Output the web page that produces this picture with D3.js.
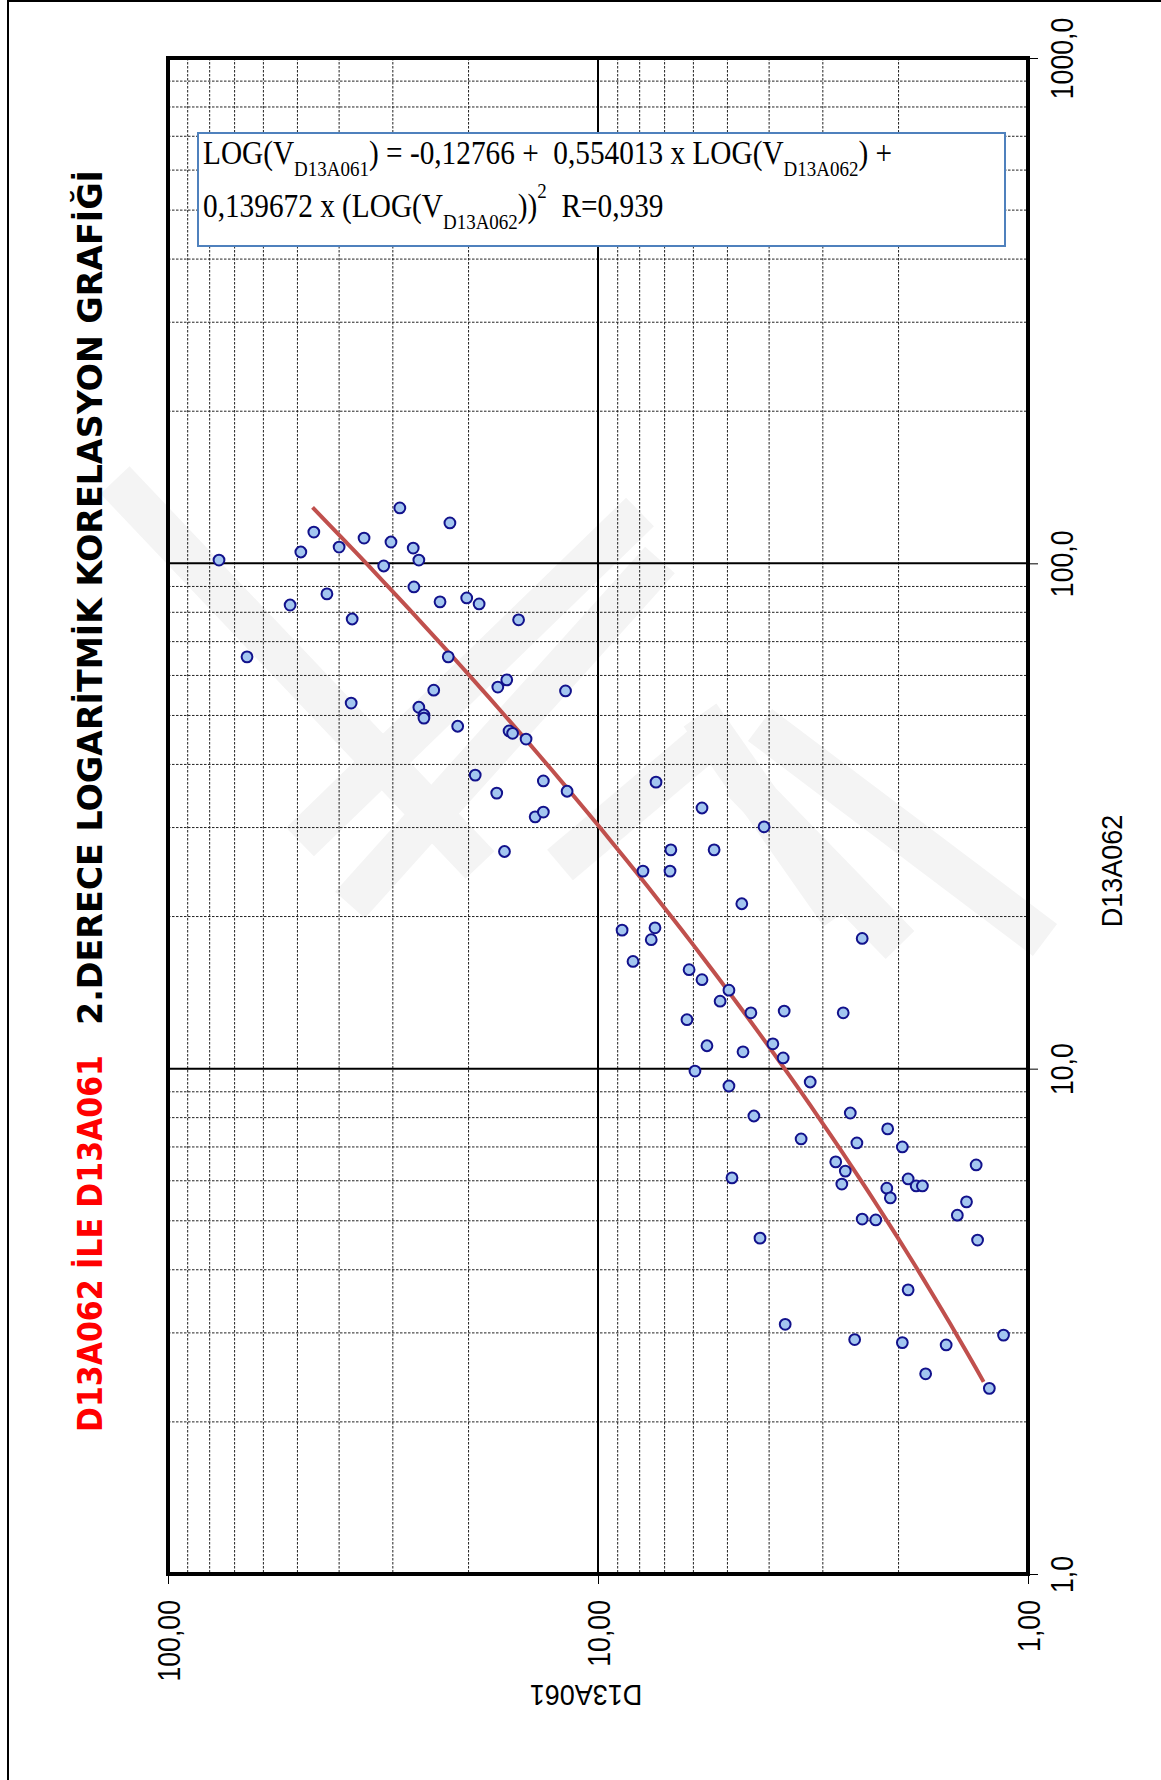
<!DOCTYPE html>
<html>
<head>
<meta charset="utf-8">
<script src="https://cdn.jsdelivr.net/npm/d3@7"></script>
<style>
body { margin: 0; background: #fff; }
svg { display: block; }
</style>
</head>
<body>
<svg id="chart" width="1161" height="1780"></svg>
<script>
// ölçüm değerleri (D13A061 yatay eksen, D13A062 dikey eksen)
var d13a061 = [76.1, 65.5, 52.0, 49.1, 45.8, 42.7, 40.0, 37.3, 37.5, 35.0, 31.5, 30.3, 28.9,
    22.1, 26.9, 26.1, 26.8, 23.3, 20.2, 18.9, 15.3, 22.3, 24.1, 26.1, 25.4, 25.4, 21.2, 17.1, 16.3, 11.9,
    16.1, 15.8, 14.7, 19.3, 17.2, 13.4, 11.8, 14.0, 13.4, 16.5,
    7.33, 5.73, 4.11, 6.77, 5.37, 7.86, 6.80, 4.63, 8.79, 7.37, 7.52, 8.29, 6.14, 5.73, 4.96, 5.20,
    4.41, 3.69, 6.21, 5.58, 4.60, 3.92, 3.71, 5.95, 4.96, 3.21,
    2.43, 2.69, 4.34, 3.37, 4.88, 4.20, 3.67,
    2.59, 2.12, 2.50, 1.96, 2.80, 2.66, 2.71, 2.13, 2.09, 1.90, 1.82, 1.76, 1.32, 1.39, 1.46, 2.43,
    2.26, 1.31, 1.90, 2.53, 1.96, 1.55, 1.73, 1.14, 1.23];
var d13a062 = [101.5, 65.3, 82.7, 105.3, 115.3, 87.0, 107.7, 77.6, 52.9, 112.2, 98.8, 110.2, 128.7,
    120.2, 107.2, 101.5, 89.8, 83.9, 85.4, 83.1, 77.3, 65.3, 56.1, 51.9, 50.1, 49.4, 47.6, 56.9, 58.8, 55.9,
    46.6, 46.1, 44.9, 38.1, 35.1, 37.1, 35.4, 31.5, 32.2, 26.9,
    36.9, 32.8, 30.1, 27.1, 27.1, 24.6, 24.6, 21.2, 18.8, 19.0, 18.0, 16.3, 15.7, 15.0, 14.3, 13.6,
    12.9, 13.0, 12.5, 11.1, 10.8, 11.2, 10.5, 9.89, 9.24, 9.41,
    18.1, 12.9, 8.06, 7.26, 6.08, 4.62, 3.12,
    8.17, 7.60, 7.13, 7.00, 6.54, 6.27, 5.91, 5.80, 5.55, 6.05, 5.86, 5.86, 6.45, 5.45, 5.13, 5.04,
    5.02, 4.58, 3.65, 2.91, 2.87, 2.84, 2.49, 2.97, 2.33];

// LOG(V061) = a + b*LOG(V062) + c*LOG(V062)^2
var fitCoef = [-0.12766, 0.554013, 0.139672];
var fitRange = [2.4, 129];

var xTickVals = [100, 10, 1];
var xTickLabels = ["100,00", "10,00", "1,00"];
var yTickVals = [1000, 100, 10, 1];
var yTickLabels = ["1000,0", "100,0", "10,0", "1,0"];
var xMinor = [2, 3, 4, 5, 6, 7, 8, 9, 20, 30, 40, 50, 60, 70, 80, 90];
var xMajor = [10];
var yMinor = [2, 3, 4, 5, 6, 7, 8, 9, 20, 30, 40, 50, 60, 70, 80, 90, 200, 300, 400, 500, 600, 700, 800, 900];
var yMajor = [10, 100];

var titleRed = "D13A062 İLE D13A061";
var titleBlack = "2.DERECE LOGARİTMİK KORELASYON GRAFİĞİ";

var svg = d3.select("#chart");
var L = 168, R = 1028, T = 58, B = 1574;

var x = d3.scaleLog().domain([100, 1]).range([L, R]);
var y = d3.scaleLog().domain([1000, 1]).range([T, B]);

// sayfa kenarı
svg.append("line").attr("x1", 8).attr("x2", 1161).attr("y1", 1).attr("y2", 1)
    .attr("stroke", "#000").attr("stroke-width", 2);
svg.append("line").attr("x1", 8).attr("x2", 8).attr("y1", 0).attr("y2", 1780)
    .attr("stroke", "#000").attr("stroke-width", 2);

// filigran (yaklaşık, çok soluk)
var wm = [[[115, 480], [480, 865]], [[300, 842], [640, 512]], [[350, 905], [660, 560]],
    [[560, 865], [720, 730]], [[700, 715], [840, 915]], [[760, 725], [1045, 940]], [[740, 780], [900, 945]]];
svg.append("g").selectAll("line").data(wm).enter().append("line")
    .attr("x1", function (d) { return d[0][0]; })
    .attr("y1", function (d) { return d[0][1]; })
    .attr("x2", function (d) { return d[1][0]; })
    .attr("y2", function (d) { return d[1][1]; })
    .attr("stroke", "#f4f4f4").attr("stroke-width", 40);

// ara çizgiler
var grid = svg.append("g");
grid.selectAll(".vmin").data(xMinor).enter().append("line")
    .attr("x1", function (d) { return x(d); }).attr("x2", function (d) { return x(d); })
    .attr("y1", T).attr("y2", B)
    .attr("stroke", "#222").attr("stroke-width", 1).attr("stroke-dasharray", "2.5,1.5");
grid.selectAll(".hmin").data(yMinor).enter().append("line")
    .attr("y1", function (d) { return y(d); }).attr("y2", function (d) { return y(d); })
    .attr("x1", L).attr("x2", R)
    .attr("stroke", "#222").attr("stroke-width", 1).attr("stroke-dasharray", "2.5,1.5");
grid.selectAll(".vmaj").data(xMajor).enter().append("line")
    .attr("x1", function (d) { return x(d); }).attr("x2", function (d) { return x(d); })
    .attr("y1", T).attr("y2", B)
    .attr("stroke", "#000").attr("stroke-width", 2);
grid.selectAll(".hmaj").data(yMajor).enter().append("line")
    .attr("y1", function (d) { return y(d); }).attr("y2", function (d) { return y(d); })
    .attr("x1", L).attr("x2", R)
    .attr("stroke", "#000").attr("stroke-width", 2);

// regresyon eğrisi
var fitPts = [];
var l0 = Math.log10(fitRange[0]), l1 = Math.log10(fitRange[1]);
for (let i = 0; i <= 60; i++) {
    let lw = l0 + (l1 - l0) * i / 60;
    let lv = fitCoef[0] + fitCoef[1] * lw + fitCoef[2] * lw * lw;
    fitPts.push([Math.pow(10, lv), Math.pow(10, lw)]);
}
var fitLine = d3.line()
    .x(function (d) { return x(d[0]); })
    .y(function (d) { return y(d[1]); });
svg.append("path").attr("d", fitLine(fitPts))
    .attr("fill", "none").attr("stroke", "#c0504d").attr("stroke-width", 4);

// noktalar
svg.append("g").selectAll("circle").data(d13a061).enter().append("circle")
    .attr("cx", function (d) { return x(d); })
    .attr("cy", function (d, i) { return y(d13a062[i]); })
    .attr("r", 5.4)
    .attr("fill", "#a3c6f0").attr("stroke", "#12128c").attr("stroke-width", 2);

// çerçeve
svg.append("rect").attr("x", L).attr("y", T).attr("width", R - L).attr("height", B - T)
    .attr("fill", "none").attr("stroke", "#000").attr("stroke-width", 4);

// eksenler
var xAxis = d3.axisBottom(x).tickValues(xTickVals).tickSize(10)
    .tickFormat(function (d, i) { return xTickLabels[i]; });
var gx = svg.append("g").attr("transform", "translate(0," + B + ")").call(xAxis);
gx.select(".domain").remove();
gx.selectAll("line").attr("stroke-width", 1);
gx.selectAll("text")
    .attr("x", 0).attr("y", 0).attr("dy", "0.36em")
    .attr("transform", "translate(0,26) rotate(-90) scale(0.86,1)")
    .attr("text-anchor", "end")
    .style("font-family", "'Liberation Sans', Arial, sans-serif")
    .style("font-size", "31px").attr("fill", "#000");

var yAxis = d3.axisRight(y).tickValues(yTickVals).tickSize(10)
    .tickFormat(function (d, i) { return yTickLabels[i]; });
var gy = svg.append("g").attr("transform", "translate(" + R + ",0)").call(yAxis);
gy.select(".domain").remove();
gy.selectAll("line").attr("stroke-width", 1);
gy.selectAll("text")
    .attr("x", 0).attr("y", 0).attr("dy", "0.36em")
    .attr("transform", "translate(34,0) rotate(-90) scale(0.86,1)")
    .attr("text-anchor", "middle")
    .style("font-family", "'Liberation Sans', Arial, sans-serif")
    .style("font-size", "31px").attr("fill", "#000");

// eksen başlıkları
svg.append("text").attr("transform", "translate(1122,871) rotate(-90) scale(0.9,1)")
    .attr("text-anchor", "middle")
    .style("font-family", "'Liberation Sans', Arial, sans-serif").style("font-size", "30px")
    .text("D13A062");
svg.append("text").attr("transform", "translate(586,1685) rotate(180) scale(0.9,1)")
    .attr("text-anchor", "middle")
    .style("font-family", "'Liberation Sans', Arial, sans-serif").style("font-size", "30px")
    .text("D13A061");

// denklem kutusu
svg.append("rect").attr("x", 198).attr("y", 133).attr("width", 807).attr("height", 113)
    .attr("fill", "#fff").attr("stroke", "#4f81bd").attr("stroke-width", 2);
var eq = svg.append("g").attr("transform", "translate(203,0)")
    .style("font-family", "'Liberation Serif', 'Times New Roman', serif")
    .style("white-space", "pre");
function eqLine(yy, parts) {
    var t = eq.append("text").attr("transform", "translate(0," + yy + ") scale(1,1.12)")
        .attr("x", 0).attr("y", 0).attr("xml:space", "preserve");
    parts.forEach(function (p) {
        t.append("tspan").attr("dy", p[2]).style("font-size", p[1] + "px").text(p[0]);
    });
}
eqLine(164, [["LOG(V", 29.3, 0], ["D13A061", 19, 11], [") = -0,12766 +  0,554013 x LOG(V", 29.3, -11],
    ["D13A062", 19, 11], [") +", 29.3, -11]]);
eqLine(217, [["0,139672 x (LOG(V", 29.3, 0], ["D13A062", 19, 11], ["))", 29.3, -11],
    ["2", 19, -17], ["  R=0,939", 29.3, 17]]);

// başlık
svg.append("text").attr("transform", "translate(102,1432) rotate(-90)")
    .attr("textLength", 377).attr("lengthAdjust", "spacingAndGlyphs")
    .style("font-family", "'DejaVu Sans', sans-serif").style("font-weight", "bold")
    .style("font-size", "34px").attr("fill", "#ff0000")
    .text(titleRed);
svg.append("text").attr("transform", "translate(102,1025) rotate(-90)")
    .attr("textLength", 855).attr("lengthAdjust", "spacingAndGlyphs")
    .style("font-family", "'DejaVu Sans', sans-serif").style("font-weight", "bold")
    .style("font-size", "34px").attr("fill", "#000")
    .text(titleBlack);
</script>
</body>
</html>
